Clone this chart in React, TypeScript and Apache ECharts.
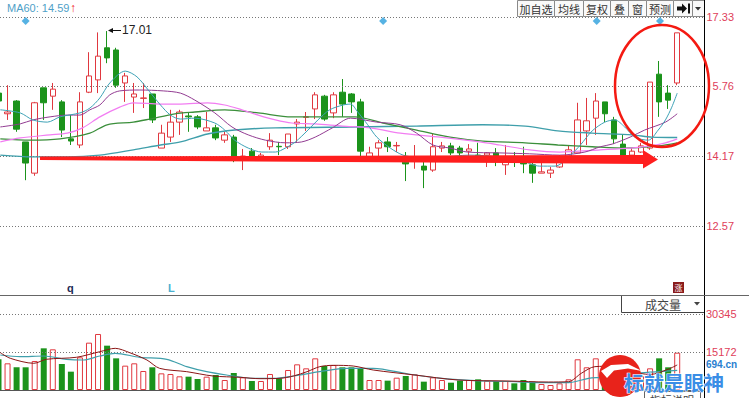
import React, { useEffect, useRef } from "react";
import * as echarts from "echarts";

// ---- data ----
// [open, close, low, high] per trading day
const candles: number[][] = [
  [15.60, 15.42, 15.35, 15.67], [15.13, 15.17, 14.99, 15.78], [15.42, 14.78, 14.72, 15.44], [14.49, 14.01, 13.62, 14.49],
  [13.78, 15.38, 13.72, 15.40], [15.72, 15.38, 14.99, 15.72], [15.53, 15.69, 15.22, 15.83], [15.40, 14.76, 14.60, 15.44],
  [14.56, 14.51, 14.42, 15.10], [14.42, 15.40, 14.35, 15.62], [15.62, 15.99, 15.60, 16.53], [15.90, 16.44, 15.60, 16.98],
  [16.63, 16.40, 16.28, 17.01], [16.58, 15.78, 15.72, 16.63], [15.83, 15.99, 15.40, 16.06], [15.51, 15.58, 15.15, 15.83],
  [15.48, 15.49, 15.26, 15.83], [15.58, 14.99, 14.92, 15.58], [14.35, 14.69, 14.35, 14.88], [14.60, 14.94, 14.49, 15.22],
  [14.94, 15.17, 14.65, 15.22], [15.08, 15.06, 14.72, 15.17], [15.06, 14.83, 14.78, 15.10], [14.74, 14.81, 14.74, 15.17],
  [14.81, 14.58, 14.53, 14.88], [14.53, 14.65, 14.47, 14.72], [14.60, 14.08, 14.03, 14.65], [14.08, 14.17, 13.85, 14.33],
  [14.28, 14.17, 14.15, 14.35], [14.15, 14.19, 14.13, 14.24], [14.38, 14.53, 14.31, 14.69], [14.39, 14.38, 14.19, 14.49],
  [14.38, 14.67, 14.33, 14.67], [14.90, 14.94, 14.49, 15.01], [15.05, 15.06, 14.74, 15.17], [15.24, 15.56, 15.01, 15.62],
  [15.53, 15.01, 14.97, 15.56], [15.15, 15.56, 15.03, 15.62], [15.62, 15.35, 15.06, 15.92], [15.58, 15.40, 15.15, 15.60],
  [15.40, 14.28, 14.15, 15.47], [14.15, 14.24, 14.15, 14.38], [14.35, 14.47, 14.17, 14.53], [14.49, 14.38, 14.26, 14.60],
  [14.40, 14.41, 14.26, 14.49], [14.03, 13.99, 13.60, 14.26], [14.08, 14.15, 13.88, 14.42], [13.94, 13.85, 13.44, 14.15],
  [13.85, 14.38, 13.81, 14.67], [14.35, 14.40, 14.26, 14.49], [14.40, 14.24, 14.19, 14.47], [14.35, 14.24, 14.15, 14.40],
  [14.28, 14.33, 14.17, 14.44], [14.19, 14.15, 14.13, 14.47], [14.19, 14.24, 13.92, 14.26], [14.24, 14.17, 13.94, 14.35],
  [13.97, 14.03, 13.74, 14.42], [14.15, 14.08, 13.92, 14.26], [14.08, 13.99, 13.78, 14.38], [13.97, 13.78, 13.56, 14.08],
  [13.78, 13.81, 13.78, 14.01], [13.78, 13.85, 13.67, 13.92], [13.92, 14.03, 13.90, 14.19], [14.08, 14.31, 14.03, 14.40],
  [14.24, 14.99, 14.24, 15.38], [14.74, 14.97, 14.42, 15.49], [15.03, 15.42, 14.65, 15.60], [15.40, 15.13, 14.94, 15.40],
  [14.99, 14.56, 14.44, 15.06], [14.44, 14.15, 14.13, 14.65], [14.19, 14.28, 14.15, 14.35], [14.26, 14.40, 14.24, 14.47],
  [14.35, 15.85, 14.31, 15.85], [16.03, 15.40, 15.06, 16.33], [15.60, 15.44, 15.24, 15.78], [15.83, 16.97, 15.78, 16.97],
];

const volumes: number[] = [
  12260, 10650, 9060, 9060, 11580, 16640, 16240, 10380, 7320, 13040,
  18900, 22360, 17700, 12640, 9720, 10650, 7590, 9060, 6650, 6390,
  5460, 5320, 4390, 5320, 5990, 3990, 6790, 5060, 3590, 3590,
  6390, 4660, 7990, 10250, 8650, 12640, 9580, 9980, 9060, 9060,
  8650, 3990, 3990, 3730, 4920, 5590, 6250, 3330, 5060, 3990,
  2930, 3730, 3990, 4260, 3730, 3590, 3590, 2660, 3990, 3330,
  2400, 2000, 2660, 4260, 12260, 9060, 12640, 7990, 6000, 5060,
  4500, 5500, 8650, 12640, 9060, 14900,
];

// moving averages: [day position, value]
const ma5: number[][] = [[0.2,15.22],[2.4,15.15],[3.8,14.99],[5.4,14.94],[6.8,15.06],[9.0,15.15],[10.1,15.26],[11.2,15.49],[12.3,15.83],[14.0,16.10],[15.3,15.97],[16.7,15.63],[17.9,15.33],[19.0,15.10],[20.1,15.01],[21.7,15.03],[23.9,14.92],[25.0,14.76],[26.1,14.53],[27.6,14.35],[29.1,14.26],[30.6,14.26],[31.7,14.35],[32.8,14.49],[34.2,14.76],[35.3,14.99],[36.6,15.22],[38.1,15.33],[38.9,15.35],[39.7,15.17],[40.8,14.88],[41.8,14.60],[43.3,14.35],[44.7,14.19],[46.0,14.15],[48.8,14.15],[52.1,14.19],[55.4,14.15],[57.6,14.08],[59.8,13.94],[61.5,13.94],[63.2,14.19],[64.3,14.42],[65.6,14.74],[67.0,14.94],[68.1,14.99],[69.2,14.83],[70.3,14.60],[71.8,14.53],[72.9,14.76],[73.7,14.99],[74.4,15.28],[75.0,15.60]];
const ma10: number[][] = [[0.2,14.83],[2.4,14.90],[3.8,14.99],[5.7,15.06],[7.6,15.10],[9.0,15.10],[10.1,15.22],[11.2,15.33],[12.3,15.56],[13.4,15.65],[15.6,15.67],[18.2,15.65],[20.1,15.60],[21.7,15.44],[23.9,15.15],[25.8,14.83],[27.6,14.65],[29.5,14.53],[31.7,14.47],[33.5,14.49],[35.0,14.60],[36.9,14.81],[38.9,15.03],[41.8,14.94],[44.4,14.88],[46.2,14.69],[48.0,14.42],[49.9,14.35],[51.8,14.26],[55.4,14.24],[58.7,14.22],[62.0,14.19],[64.8,14.26],[66.5,14.38],[67.8,14.44],[69.8,14.60],[71.4,14.76],[73.7,14.94],[75.0,15.13]];
const ma20: number[][] = [[0.2,14.49],[2.4,14.58],[5.7,14.65],[7.6,14.69],[9.3,14.81],[11.2,15.06],[13.4,15.28],[14.9,15.38],[17.9,15.35],[20.1,15.35],[23.1,15.38],[25.0,15.33],[26.9,15.22],[28.7,15.10],[30.6,14.99],[32.4,14.92],[35.0,14.90],[38.0,14.85],[41.1,14.81],[44.4,14.69],[48.8,14.60],[53.2,14.49],[55.4,14.42],[58.7,14.31],[62.0,14.26],[66.5,14.31],[69.8,14.35],[72.0,14.40],[73.7,14.47],[75.0,14.56]];
const ma30: number[][] = [[0.2,14.56],[3.5,14.53],[6.8,14.56],[10.1,14.69],[12.0,14.88],[14.9,14.94],[16.7,15.01],[19.5,15.13],[21.7,15.17],[25.0,15.22],[28.7,15.15],[32.4,15.06],[36.1,15.06],[39.4,15.06],[42.5,14.92],[46.2,14.76],[49.9,14.60],[53.5,14.51],[58.2,14.47],[61.8,14.42],[65.6,14.38],[69.2,14.35],[72.9,14.40],[75.0,14.47]];
const ma60: number[][] = [[0.2,14.19],[3.8,14.15],[7.6,14.15],[11.2,14.19],[14.9,14.31],[17.9,14.42],[20.1,14.49],[23.1,14.67],[26.1,14.76],[30.6,14.81],[39.4,14.83],[46.2,14.85],[53.5,14.88],[58.2,14.85],[61.8,14.74],[65.6,14.69],[70.0,14.65],[72.2,14.60],[75.0,14.59]];

const volMa5: number[][] = [[0.2,14900],[1.3,12660],[3.9,10660],[5.3,12260],[8.6,13060],[11.2,15300],[12.9,16640],[14.5,14900],[16.4,11980],[17.8,8650],[20.8,7320],[23.7,5590],[26.7,5060],[28.9,4520],[31.1,4660],[32.6,5590],[34.1,7320],[35.5,9320],[37.0,9850],[39.2,9580],[41.4,7990],[46.0,5990],[50.8,3990],[56.3,3590],[60.8,3190],[63.0,3330],[64.4,6660],[65.9,9320],[68.0,9500],[70.0,7300],[72.0,6200],[74.0,8300],[75.0,10000]];
const volMa10: number[][] = [[0.2,13980],[2.4,13310],[5.0,13580],[7.5,12260],[9.4,11980],[11.2,13580],[12.9,14640],[15.6,13060],[18.6,12260],[20.8,9320],[23.0,7320],[25.2,5990],[28.2,4660],[30.4,4660],[32.6,5590],[35.5,7320],[38.5,8650],[41.4,8650],[45.3,6390],[49.0,4660],[52.7,3730],[57.1,3330],[60.0,2930],[63.0,2930],[65.2,4660],[66.7,5060],[70.0,6500],[75.0,7800]];

const priceTicks = [17.33, 15.76, 14.17, 12.57];
const priceTickLabels = ["17.33", "5.76", "14.17", "12.57"];
const volTicks = [30345, 15172];
const volTickLabels = ["30345", "15172"];
const eventMarkers = [3.0, 42.5, 66.1, 73.1];
const eventMarkerLevel = 17.24;
const maxPriceLabel = "17.01";
const headerLabel = "MA60: 14.59";
const toolbarItems = ["加自选", "均线", "复权", "叠", "窗", "预测"];

const RED = "#e0383f";
const GREEN = "#1b931b";
const LABEL_RED = "#e0405a";
const LATIN = "Arial, 'Liberation Sans', sans-serif";
const CJK = "'Noto Sans CJK SC', sans-serif";

function txt(x: number, y: number, text: string, fontSize: number, fill: string, opts: any = {}) {
  return {
    type: "text",
    x,
    y,
    z: opts.z ?? 60,
    silent: true,
    style: {
      text,
      fill,
      fontSize,
      fontFamily: opts.family ?? LATIN,
      fontWeight: opts.weight ?? "normal",
      align: opts.align ?? "left",
      verticalAlign: opts.v ?? "middle",
      textAlign: opts.align ?? "left",
      textVerticalAlign: opts.v ?? "middle",
      stroke: opts.stroke,
      lineWidth: opts.lineWidth ?? 0,
    },
  };
}

export default function App() {
  const ref = useRef<HTMLDivElement>(null);
  useEffect(() => {
    document.body.style.margin = "0";
    const chart = echarts.init(ref.current!, undefined, { renderer: "svg" });

    const candleData = candles.map((c, i) => [i, c[0], c[1], c[2], c[3]]);
    const volData = volumes.map((v, i) => {
      const up = candles[i][1] >= candles[i][0];
      return {
        value: [i, v],
        itemStyle: up
          ? { color: "#ffffff", borderColor: RED, borderWidth: 1 }
          : { color: GREEN, borderColor: GREEN, borderWidth: 0 },
      };
    });

    const lineSeries = (data: number[][], color: string, width: number, xi: number) => ({
      type: "line",
      xAxisIndex: xi,
      yAxisIndex: xi,
      data,
      showSymbol: false,
      smooth: 0.3,
      silent: true,
      z: 5,
      lineStyle: { color, width },
    });

    const g: any[] = [];
    // toolbar
    const edges = [517, 554, 583, 610, 628, 646, 673, 692, 704];
    for (let i = 0; i < edges.length - 1; i++) {
      g.push({
        type: "rect",
        z: 55,
        silent: true,
        shape: { x: edges[i] + 0.5, y: 0.5, width: edges[i + 1] - edges[i], height: 16 },
        style: { fill: "#f9f9f9", stroke: "#8a8a8a", lineWidth: 1 },
      });
    }
    toolbarItems.forEach((t, i) => {
      g.push(txt((edges[i] + edges[i + 1]) / 2 + 0.5, 9, t, 11, "#333", { family: CJK, align: "center" }));
    });
    g.push({
      type: "polygon", z: 60, silent: true,
      shape: { points: [[677, 6.5], [682, 6.5], [682, 3.5], [687, 8.5], [682, 13.5], [682, 10.5], [677, 10.5]] },
      style: { fill: "#111" },
    });
    g.push({ type: "rect", z: 60, silent: true, shape: { x: 688, y: 3.5, width: 2, height: 10 }, style: { fill: "#111" } });
    g.push({ type: "polygon", z: 60, silent: true, shape: { points: [[695, 7], [701, 7], [698, 10.5]] }, style: { fill: "#333" } });

    // header
    g.push(txt(7, 8, headerLabel, 11, "#4f9fc8"));
    g.push(txt(70, 8, "↑", 12, "#f02020", { weight: "bold" }));

    // max price annotation
    g.push({ type: "line", z: 60, silent: true, shape: { x1: 111, y1: 30.5, x2: 121, y2: 30.5 }, style: { stroke: "#111", lineWidth: 1 } });
    g.push({ type: "polygon", z: 60, silent: true, shape: { points: [[108, 30.5], [113, 28], [113, 33]] }, style: { fill: "#111" } });
    g.push(txt(122, 30, maxPriceLabel, 12, "#222"));

    // frame lines
    g.push({ type: "line", z: 58, silent: true, shape: { x1: 704.5, y1: 0, x2: 704.5, y2: 398 }, style: { stroke: "#000", lineWidth: 1 } });
    g.push({ type: "line", z: 58, silent: true, shape: { x1: 0, y1: 295.5, x2: 749, y2: 295.5 }, style: { stroke: "#666", lineWidth: 1 } });
    g.push({ type: "line", z: 58, silent: true, shape: { x1: 0, y1: 390.5, x2: 704, y2: 390.5 }, style: { stroke: "#555", lineWidth: 1 } });

    // volume selector box
    g.push({ type: "polyline", z: 58, silent: true, shape: { points: [[621.5, 296], [621.5, 312.5], [704, 312.5]] }, style: { stroke: "#444", lineWidth: 1, fill: "none" } });
    g.push(txt(645, 304, "成交量", 12, "#444", { family: CJK }));
    g.push({ type: "polygon", z: 60, silent: true, shape: { points: [[694, 302], [700, 302], [697, 305.5]] }, style: { fill: "#444" } });

    // small markers on price panel bottom
    g.push(txt(67, 288, "q", 11, "#1e2a55", { weight: "bold" }));
    g.push(txt(168, 288, "L", 11, "#4ab0d0", { weight: "bold" }));
    g.push({ type: "rect", z: 58, silent: true, shape: { x: 673, y: 282, width: 11, height: 11 }, style: { fill: "#8b1c1c" } });
    g.push(txt(678.5, 287.5, "涨", 8, "#fff", { family: CJK, align: "center" }));

    // red annotations
    g.push({
      type: "polygon", z: 70, silent: true,
      shape: { points: [[40, 156.5], [643, 155], [643, 150], [658, 159.5], [643, 168.5], [643, 164], [40, 160]] },
      style: { fill: "#ff1e1e" },
    });
    g.push({
      type: "ellipse", z: 70, silent: true,
      shape: { cx: 662, cy: 86, rx: 47, ry: 61 },
      style: { fill: "none", stroke: "#f41a12", lineWidth: 2.5 },
    });

    // bottom button (cut off by the page edge, as in the reference)
    g.push({ type: "rect", z: 58, silent: true, shape: { x: 644.5, y: 391.5, width: 56, height: 20 }, style: { fill: "#fff", stroke: "#666", lineWidth: 1 } });
    g.push(txt(672, 394, "指标说明", 11, "#444", { family: CJK, align: "center", v: "top" }));

    // watermark
    g.push({ type: "circle", z: 80, silent: true, shape: { cx: 620, cy: 376, r: 21 }, style: { fill: "#e8231b" } });
    g.push({
      type: "polygon", z: 81, silent: true,
      shape: { points: [[601, 371], [611, 365], [628, 364], [642, 371], [628, 368.5], [614, 370.5], [607, 378]] },
      style: { fill: "#ffffff" },
    });
    g.push(txt(706, 364, "694.cn", 10, "#2a7fd0", { weight: "bold", z: 82 }));
    g.push(txt(624, 382.5, "标就是眼神", 20, "#3a8ee6", { family: CJK, weight: "bold", stroke: "#ffffff", lineWidth: 1, z: 82 }));

    const option: any = {
      animation: false,
      backgroundColor: "#ffffff",
      grid: [
        { left: 0, right: 45, top: 17, height: 278 },
        { left: 0, right: 45, top: 314, height: 76 },
      ],
      xAxis: [
        { type: "value", gridIndex: 0, min: 0.166, max: 77.96, show: false },
        { type: "value", gridIndex: 1, min: 0.166, max: 77.96, show: false },
      ],
      yAxis: [
        {
          type: "value", gridIndex: 0, position: "right", min: 11.01, max: 17.33,
          axisLine: { show: false }, axisTick: { show: false }, splitLine: { show: false },
          axisLabel: {
            customValues: priceTicks,
            formatter: (v: number) => {
              let best = 0;
              priceTicks.forEach((t, i) => { if (Math.abs(t - v) < Math.abs(priceTicks[best] - v)) best = i; });
              return priceTickLabels[best];
            },
            align: "right", margin: 30, color: LABEL_RED, fontSize: 11, fontFamily: LATIN,
          },
        },
        {
          type: "value", gridIndex: 1, position: "right", min: 0, max: 30345,
          axisLine: { show: false }, axisTick: { show: false }, splitLine: { show: false },
          axisLabel: {
            customValues: volTicks,
            formatter: (v: number) => {
              let best = 0;
              volTicks.forEach((t, i) => { if (Math.abs(t - v) < Math.abs(volTicks[best] - v)) best = i; });
              return volTickLabels[best];
            },
            align: "left", margin: 2, color: LABEL_RED, fontSize: 11, fontFamily: LATIN,
          },
        },
      ],
      series: [
        {
          type: "candlestick",
          xAxisIndex: 0, yAxisIndex: 0,
          data: candleData,
          encode: { x: 0, y: [1, 2, 3, 4] },
          barWidth: 6,
          silent: true,
          z: 3,
          itemStyle: { color: "#ffffff", color0: GREEN, borderColor: RED, borderColor0: GREEN, borderWidth: 1 },
          markLine: {
            silent: true, symbol: ["none", "none"], label: { show: false },
            lineStyle: { type: [1, 2], color: "#777", width: 1 },
            emphasis: { disabled: true },
            data: priceTicks.map((v) => ({ yAxis: v })),
          },
        },
        lineSeries(ma60, "#3f9fab", 1.4, 0),
        lineSeries(ma30, "#3b8f3b", 1.3, 0),
        lineSeries(ma20, "#f27df2", 1.2, 0),
        lineSeries(ma10, "#923c92", 1, 0),
        lineSeries(ma5, "#3ea2b6", 1, 0),
        {
          type: "scatter", xAxisIndex: 0, yAxisIndex: 0, symbol: "diamond", symbolSize: 8, silent: true, z: 6,
          itemStyle: { color: "#2c9fdc" },
          data: eventMarkers.map((m) => [m, eventMarkerLevel]),
        },
        {
          type: "bar",
          xAxisIndex: 1, yAxisIndex: 1,
          barWidth: 6,
          silent: true,
          data: volData,
          markLine: {
            silent: true, symbol: ["none", "none"], label: { show: false },
            lineStyle: { type: [1, 2], color: "#777", width: 1 },
            emphasis: { disabled: true },
            data: volTicks.map((v) => ({ yAxis: v })),
          },
        },
        lineSeries(volMa10, "#3f9fab", 1.2, 1),
        lineSeries(volMa5, "#8b1515", 1, 1),
      ],
      graphic: { elements: g },
    };
    chart.setOption(option);
    return () => chart.dispose();
  }, []);
  return <div ref={ref} style={{ width: 749, height: 398, position: "absolute", left: 0, top: 0 }} />;
}
